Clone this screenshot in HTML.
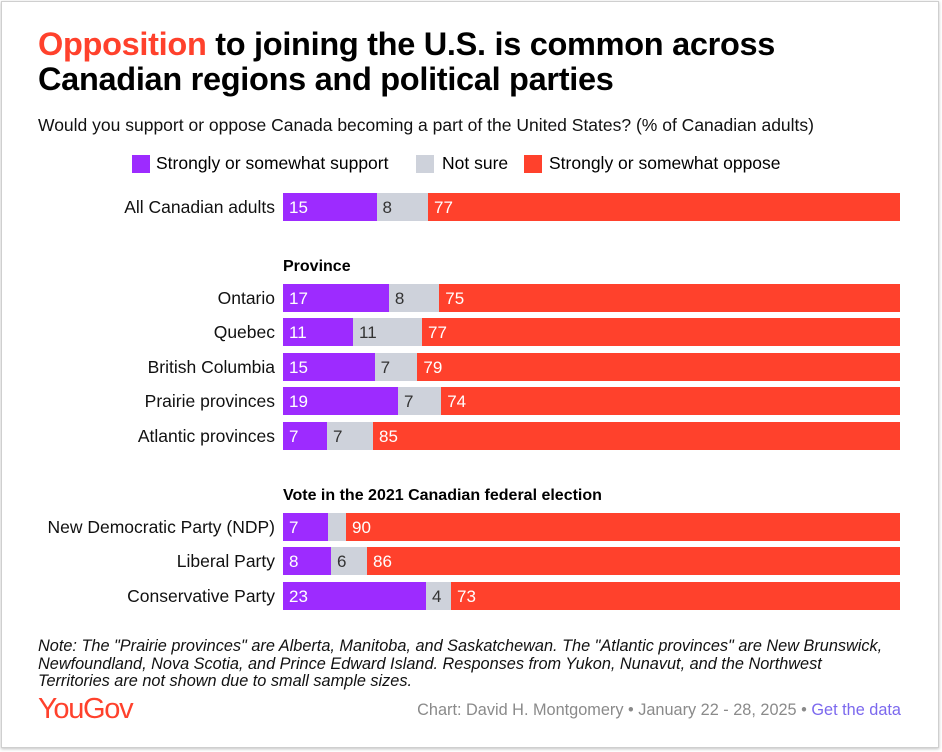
<!DOCTYPE html>
<html><head><meta charset="utf-8"><style>
body{margin:0;width:942px;height:752px;background:#fff;font-family:"Liberation Sans",sans-serif;position:relative;overflow:hidden}
.frame{position:absolute;left:1px;top:1px;width:936px;height:745px;border:1px solid #cfcfcf;box-shadow:0 1px 3px rgba(0,0,0,.25)}
.a{position:absolute;white-space:nowrap}
h1{position:absolute;left:38px;top:27px;margin:0;font-size:32.5px;line-height:35px;font-weight:bold;color:#000;letter-spacing:-0.3px}
h1 span{color:#ff412c}
.lbl{position:absolute;right:667px;font-size:17.5px;color:#111;line-height:28px}
.bar{position:absolute;left:283px;width:617px;height:28px;display:flex}
.bar div{flex:none;height:100%;font-size:17px;line-height:29px;padding-left:6px;box-sizing:border-box;overflow:hidden}
.p{background:#9d2bff;color:#fff}.g{background:#ced2db;color:#333}.r{background:#ff412c;color:#fff}
.sec{position:absolute;left:283px;font-size:16px;font-weight:bold;color:#000}
.sq{position:absolute;width:18px;height:18px;top:155px}
.lg{position:absolute;top:153px;font-size:17.5px;white-space:nowrap}
</style></head><body>
<div class="frame"></div>
<h1><span>Opposition</span> to joining the U.S. is common across<br>Canadian regions and political parties</h1>
<div class="a" style="left:38px;top:115px;font-size:17.5px;color:#111">Would you support or oppose Canada becoming a part of the United States? (% of Canadian adults)</div>
<div class="sq" style="left:132px;background:#9d2bff"></div><div class="lg" style="left:156px">Strongly or somewhat support</div>
<div class="sq" style="left:416px;background:#ced2db"></div><div class="lg" style="left:442px">Not sure</div>
<div class="sq" style="left:524px;background:#ff412c"></div><div class="lg" style="left:549px">Strongly or somewhat oppose</div>

<div class="lbl" style="top:193px">All Canadian adults</div>
<div class="bar" style="top:193px"><div class="p" style="width:93.5px">15</div><div class="g" style="width:51.5px">8</div><div class="r" style="width:472px">77</div></div>

<div class="sec" style="top:258px">Province</div>
<div class="lbl" style="top:284px">Ontario</div>
<div class="bar" style="top:284px"><div class="p" style="width:105.9px">17</div><div class="g" style="width:50.4px">8</div><div class="r" style="width:460.7px">75</div></div>
<div class="lbl" style="top:318px">Quebec</div>
<div class="bar" style="top:318px"><div class="p" style="width:70px">11</div><div class="g" style="width:69px">11</div><div class="r" style="width:478px">77</div></div>
<div class="lbl" style="top:353px">British Columbia</div>
<div class="bar" style="top:353px"><div class="p" style="width:91.6px">15</div><div class="g" style="width:42.8px">7</div><div class="r" style="width:482.6px">79</div></div>
<div class="lbl" style="top:387px">Prairie provinces</div>
<div class="bar" style="top:387px"><div class="p" style="width:115px">19</div><div class="g" style="width:43.2px">7</div><div class="r" style="width:458.8px">74</div></div>
<div class="lbl" style="top:422px">Atlantic provinces</div>
<div class="bar" style="top:422px"><div class="p" style="width:44px">7</div><div class="g" style="width:46px">7</div><div class="r" style="width:527px">85</div></div>

<div class="sec" style="top:487px">Vote in the 2021 Canadian federal election</div>
<div class="lbl" style="top:513px">New Democratic Party (NDP)</div>
<div class="bar" style="top:513px"><div class="p" style="width:45px">7</div><div class="g" style="width:18px;padding:0"></div><div class="r" style="width:554px">90</div></div>
<div class="lbl" style="top:547px">Liberal Party</div>
<div class="bar" style="top:547px"><div class="p" style="width:48px">8</div><div class="g" style="width:36px">6</div><div class="r" style="width:533px">86</div></div>
<div class="lbl" style="top:582px">Conservative Party</div>
<div class="bar" style="top:582px"><div class="p" style="width:143px">23</div><div class="g" style="width:25px">4</div><div class="r" style="width:449px">73</div></div>

<div class="a" style="left:38px;top:638px;font-size:16.3px;font-style:italic;line-height:17.5px;color:#111;letter-spacing:0">Note: The "Prairie provinces" are Alberta, Manitoba, and Saskatchewan. The "Atlantic provinces" are New Brunswick,<br>Newfoundland, Nova Scotia, and Prince Edward Island. Responses from Yukon, Nunavut, and the Northwest<br>Territories are not shown due to small sample sizes.</div>
<div class="a" style="left:38px;top:693px;font-size:29px;color:#ff412c;letter-spacing:-1.3px">YouGov</div>
<div class="a" style="right:41px;top:701px;font-size:16.3px;color:#8a8a8a">Chart: David H. Montgomery • January 22 - 28, 2025 • <span style="color:#7b68ee">Get the data</span></div>
</body></html>
